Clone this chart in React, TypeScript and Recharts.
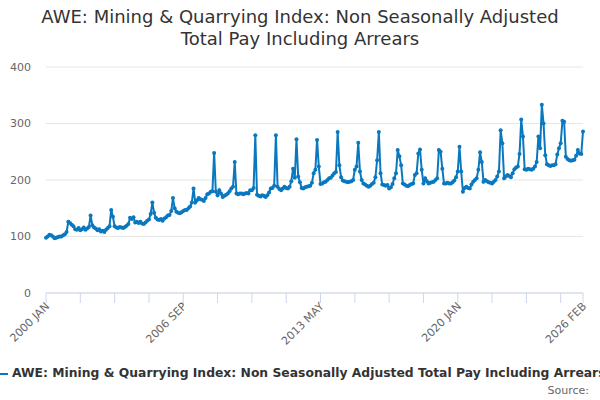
import React from "react";
import { LineChart, Line, XAxis, YAxis, CartesianGrid } from "recharts";

// AWE Mining & Quarrying index, monthly, 2000 JAN .. 2026 FEB
const years = [
  2000, 2001, 2002, 2003, 2004, 2005, 2006, 2007, 2008, 2009, 2010, 2011, 2012,
  2013, 2014, 2015, 2016, 2017, 2018, 2019, 2020, 2021, 2022, 2023, 2024, 2025, 2026,
];
const monthNames = ["JAN", "FEB", "MAR", "APR", "MAY", "JUN", "JUL", "AUG", "SEP", "OCT", "NOV", "DEC"];

const values = [
  98, 100, 103, 102, 100, 97, 98, 99, 100, 100, 102, 104, // 2000
  108, 126, 124, 121, 118, 113, 112, 115, 111, 113, 116, 112, // 2001
  114, 117, 137, 120, 116, 114, 111, 113, 109, 110, 108, 112, // 2002
  115, 118, 147, 135, 118, 116, 115, 117, 116, 115, 117, 119, // 2003
  122, 133, 131, 134, 125, 126, 124, 126, 123, 122, 125, 128, // 2004
  130, 140, 160, 142, 133, 130, 129, 131, 128, 132, 134, 137, // 2005
  138, 145, 168, 150, 144, 142, 141, 143, 145, 147, 147, 150, // 2006
  153, 160, 185, 160, 164, 168, 166, 165, 163, 168, 175, 176, // 2007
  179, 180, 248, 179, 173, 182, 176, 170, 172, 174, 176, 180, // 2008
  185, 188, 232, 176, 175, 176, 176, 175, 176, 177, 176, 182, // 2009
  182, 186, 279, 174, 172, 171, 173, 172, 170, 173, 178, 185, // 2010
  186, 190, 279, 188, 184, 182, 185, 188, 186, 185, 188, 198, // 2011
  220, 204, 272, 206, 196, 186, 185, 187, 188, 189, 190, 195, // 2012
  212, 218, 271, 224, 193, 194, 196, 197, 200, 203, 204, 208, // 2013
  212, 214, 285, 226, 205, 199, 198, 197, 196, 197, 198, 200, // 2014
  218, 224, 266, 215, 200, 194, 192, 190, 188, 190, 193, 195, // 2015
  205, 235, 285, 212, 192, 191, 190, 191, 185, 187, 193, 203, // 2016
  212, 253, 242, 226, 194, 192, 190, 189, 191, 193, 194, 209, // 2017
  212, 247, 254, 218, 194, 203, 198, 194, 195, 196, 197, 200, // 2018
  203, 253, 250, 220, 194, 194, 195, 194, 194, 196, 199, 205, // 2019
  215, 259, 215, 179, 186, 188, 186, 185, 192, 197, 200, 203, // 2020
  218, 249, 232, 197, 200, 198, 196, 195, 194, 197, 200, 206, // 2021
  215, 288, 265, 203, 206, 209, 207, 205, 212, 219, 222, 224, // 2022
  246, 307, 277, 219, 218, 220, 219, 218, 220, 224, 232, 277, // 2023
  256, 333, 300, 244, 228, 226, 225, 226, 226, 228, 245, 256, // 2024
  265, 305, 303, 241, 237, 235, 234, 235, 236, 243, 253, 247, // 2025
  246, 286, // 2026
];

const tickIdx = [0, 20, 40, 60, 80, 100, 120, 140, 160, 180, 200, 220, 240, 260, 280, 300, 313];
const labelIdx = [0, 80, 160, 240, 313];
const yTicks = [0, 100, 200, 300, 400];

const seriesName = "AWE: Mining & Quarrying Index: Non Seasonally Adjusted Total Pay Including Arrears";
const COLOR = "#0a78bf";
const FONT = "'DejaVu Sans', sans-serif";

const data = values.map((v, i) => ({
  i,
  label: `${years[Math.floor(i / 12)]} ${monthNames[i % 12]}`,
  v,
}));

function XTick(props: any) {
  const { x, y, payload } = props;
  if (!labelIdx.includes(payload.value)) return null;
  const tx = x + 4;
  const ty = y + 2;
  return (
    <text
      x={tx}
      y={ty}
      textAnchor="end"
      fill="#666"
      fontSize={11}
      fontFamily={FONT}
      transform={`rotate(-45 ${tx} ${ty})`}
    >
      {data[payload.value].label}
    </text>
  );
}

export default function App() {
  return (
    <div
      style={{
        position: "absolute",
        left: 0,
        top: 0,
        width: 600,
        height: 400,
        overflow: "hidden",
        background: "#fff",
        fontFamily: FONT,
      }}
    >
      <div
        style={{
          position: "absolute",
          top: 6,
          left: 0,
          width: 600,
          textAlign: "center",
          fontSize: 18,
          lineHeight: "22px",
          color: "#333",
        }}
      >
        AWE: Mining &amp; Quarrying Index: Non Seasonally Adjusted
        <br />
        Total Pay Including Arrears
      </div>
      <LineChart
        width={600}
        height={400}
        data={data}
        margin={{ top: 67, right: 17, bottom: 77, left: 10 }}
      >
        <CartesianGrid vertical={false} stroke="#e6e6e6" />
        <XAxis
          type="number"
          dataKey="i"
          domain={[0, 313]}
          ticks={tickIdx}
          interval={0}
          height={30}
          tickSize={10}
          tickLine={{ stroke: "#ccd6eb" }}
          axisLine={{ stroke: "#ccd6eb" }}
          tick={<XTick />}
        />
        <YAxis
          width={36}
          domain={[0, 400]}
          ticks={yTicks}
          axisLine={false}
          tickLine={false}
          tickSize={0}
          tickMargin={15}
          tick={{ fill: "#666", fontSize: 11, fontFamily: FONT }}
        />
        <Line
          type="linear"
          dataKey="v"
          stroke={COLOR}
          strokeWidth={2}
          dot={{ r: 2, fill: COLOR, stroke: COLOR, strokeWidth: 0 }}
          isAnimationActive={false}
        />
      </LineChart>
      <div style={{ position: "absolute", left: 0, top: 373, width: 8, height: 2, background: COLOR }} />
      <div
        style={{
          position: "absolute",
          left: 12,
          top: 366,
          whiteSpace: "nowrap",
          fontSize: 12.35,
          fontWeight: "bold",
          color: "#333",
        }}
      >
        {seriesName}
      </div>
      <div
        style={{
          position: "absolute",
          right: 11,
          top: 384,
          fontSize: 11,
          color: "#666",
        }}
      >
        Source:
      </div>
    </div>
  );
}
